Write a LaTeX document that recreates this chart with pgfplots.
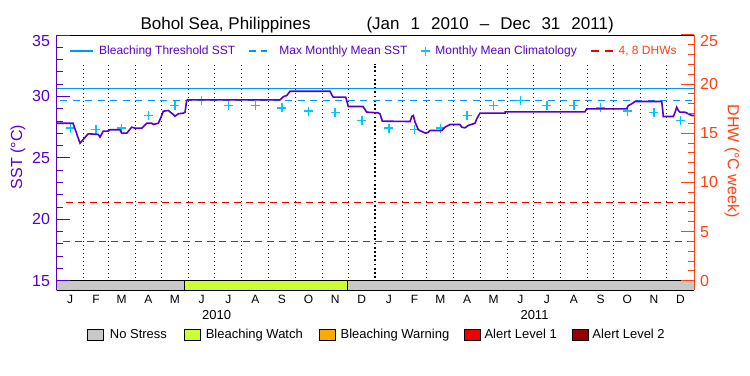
\documentclass[border=0pt]{standalone}
\usepackage{fontspec}
\setmainfont{Liberation Sans}
\usepackage{pgfplots}
\pgfplotsset{compat=1.18}
\definecolor{ppl}{RGB}{88,0,200}
\definecolor{orng}{RGB}{255,64,16}
\definecolor{thr}{RGB}{0,150,255}
\definecolor{cyn}{RGB}{0,200,255}
\definecolor{dhw}{RGB}{240,0,0}
\definecolor{nost}{RGB}{200,200,200}
\definecolor{watch}{RGB}{204,255,51}
\definecolor{warn}{RGB}{255,170,0}
\definecolor{alone}{RGB}{240,0,0}
\definecolor{altwo}{RGB}{150,0,0}
\newcommand{\fs}[1]{\fontsize{#1}{#1}\selectfont}

\pgfplotstableread{
d sst
0 27.82
18.7 27.82
26.7 26.20
34.4 26.83
36.2 26.96
47.7 26.91
49.6 26.69
53.4 27.18
58.8 27.18
61.1 27.29
72.5 27.29
74.5 27.01
80.2 27.01
85.9 27.50
89.7 27.42
97.4 27.42
103.1 27.82
108.8 27.82
110.7 27.72
116.4 27.82
119.5 28.31
122.1 28.80
127.8 28.86
133.6 28.53
135.5 28.39
139.3 28.59
145.0 28.64
147.0 28.72
148.9 29.67
150.0 29.72
255.8 29.72
259.6 29.99
263.5 30.07
267.2 30.42
313.1 30.42
315.0 30.15
316.8 29.94
331.0 29.94
332.2 29.67
334.0 29.18
350.9 29.18
355.1 28.72
368.0 28.67
370.3 28.59
373.0 27.99
404.8 27.96
406.7 28.37
408.5 28.45
410.5 27.91
414.2 27.29
418.1 27.15
422.7 27.01
425.7 27.09
427.6 27.23
441.0 27.23
444.8 27.50
450.5 27.72
462.0 27.72
463.9 27.50
467.7 27.45
471.5 27.64
479.2 27.82
481.1 28.18
484.9 28.64
513.5 28.64
513.6 28.75
605.1 28.75
607.0 28.99
652.9 28.99
654.7 29.26
658.6 29.40
662.4 29.59
693.0 29.59
694.2 28.86
694.8 28.37
706.3 28.37
708.3 28.72
710.2 29.12
712.0 28.86
714.0 28.72
719.7 28.72
723.5 28.59
727.4 28.45
730 28.45
}\sstdata

\pgfplotstableread{
d clim
15.5 27.42
45 27.29
74.5 27.42
105 28.45
135.5 29.26
166 29.67
196.5 29.26
227.5 29.26
258 29.07
288.5 28.80
319 28.67
349.5 28.04
380.5 27.42
410 27.29
439.5 27.42
470 28.45
500.5 29.26
531 29.67
561.5 29.26
592.5 29.26
623 29.07
653.5 28.80
684 28.67
714.5 28.04
}\climdata

\begin{document}
\begin{tikzpicture}
\begin{axis}[
  name=main,
  scale only axis,
  width=637.3pt, height=255pt,
  xmin=0, xmax=730, ymin=14.25, ymax=35,
  clip mode=individual,
  axis on top,
  axis x line*=box, axis y line*=left,
  x axis line style={black, line width=1pt, -},
  y axis line style={ppl, line width=1pt, -},
  tick align=inside,
  major tick length=13pt, minor tick length=6.5pt,
  ytick={15,20,25,30}, extra y ticks={35},
  minor ytick={16,17,18,19,21,22,23,24,26,27,28,29,31,32,33,34},
  ytick style={ppl, line width=1pt},
  extra y tick style={yticklabel style={yshift=-6pt}},
  yticklabel style={text=ppl, font=\fs{16}, inner sep=0pt, xshift=-6.5pt},
  /pgf/number format/assume math mode=true,
  xtick={15.5,45,74.5,105,135.5,166,196.5,227.5,258,288.5,319,349.5,380.5,410,439.5,470,500.5,531,561.5,592.5,623,653.5,684,714.5},
  xticklabels={J,F,M,A,M,J,J,A,S,O,N,D,J,F,M,A,M,J,J,A,S,O,N,D},
  xtick style={draw=none},
  xticklabel style={font=\fs{12}, inner sep=0pt, anchor=north, yshift=-5pt},
  legend columns=4,
  legend style={at={(0.0193,0.937)}, anchor=west, draw=none, fill=none,
    inner sep=0pt, outer sep=0pt, column sep=0pt, row sep=0pt,
    nodes={inner sep=0pt, text=ppl, font=\fs{12}}},
]
\addlegendimage{legend image code/.code={\draw[thr, line width=1.2pt] (0pt,0pt) -- (23pt,0pt);}}
\addlegendentry{\makebox[155pt][l]{\hspace{6pt}Bleaching Threshold SST}}
\addlegendimage{legend image code/.code={\draw[thr, line width=1.2pt, dash pattern=on 7pt off 5pt] (0pt,0pt) -- (18pt,0pt);}}
\addlegendentry{\makebox[152pt][l]{\hspace{12pt}Max Monthly Mean SST}}
\addlegendimage{legend image code/.code={\path[draw=none, fill=none] (0pt,-4.5pt) rectangle (12pt,4.5pt); \draw[cyn, line width=1.4pt] (1.5pt,0pt) -- (10.5pt,0pt) (6pt,-4.5pt) -- (6pt,4.5pt);}}
\addlegendentry{\makebox[159pt][l]{\hspace{4pt}Monthly Mean Climatology}}
\addlegendimage{legend image code/.code={\draw[dhw, line width=1.2pt, dash pattern=on 8pt off 6pt] (0pt,0pt) -- (24pt,0pt);}}
\addlegendentry{\makebox[72pt][l]{\hspace{3pt}\textcolor{orng}{4, 8 DHWs}}}

% stress bar
\addplot[fill=nost, draw=black, line width=0.9pt, forget plot] coordinates {(0,14.25) (0,15) (146,15) (146,14.25)} -- cycle;
\addplot[fill=watch, draw=black, line width=0.9pt, forget plot] coordinates {(146,14.25) (146,15) (333,15) (333,14.25)} -- cycle;
\addplot[fill=nost, draw=black, line width=0.9pt, forget plot] coordinates {(333,14.25) (333,15) (730,15) (730,14.25)} -- cycle;

% month boundaries
\addplot[black, line width=1pt, dash pattern=on 1pt off 3pt, unbounded coords=jump, forget plot] coordinates {
(31,15.23) (31,32.67) (31,nan)
(59,15.23) (59,32.67) (59,nan)
(90,15.23) (90,32.67) (90,nan)
(120,15.23) (120,32.67) (120,nan)
(151,15.23) (151,32.67) (151,nan)
(181,15.23) (181,32.67) (181,nan)
(212,15.23) (212,32.67) (212,nan)
(243,15.23) (243,32.67) (243,nan)
(273,15.23) (273,32.67) (273,nan)
(304,15.23) (304,32.67) (304,nan)
(334,15.23) (334,32.67) (334,nan)
(396,15.23) (396,32.67) (396,nan)
(424,15.23) (424,32.67) (424,nan)
(455,15.23) (455,32.67) (455,nan)
(485,15.23) (485,32.67) (485,nan)
(516,15.23) (516,32.67) (516,nan)
(546,15.23) (546,32.67) (546,nan)
(577,15.23) (577,32.67) (577,nan)
(608,15.23) (608,32.67) (608,nan)
(638,15.23) (638,32.67) (638,nan)
(669,15.23) (669,32.67) (669,nan)
(699,15.23) (699,32.67)
};
\addplot[black, line width=1.8pt, dash pattern=on 1.8pt off 2.4pt, forget plot] coordinates {(365,15.23) (365,32.67)};

% DHW 4 and 8
\addplot[dhw, line width=1pt, dash pattern=on 7pt off 5pt, forget plot] coordinates {(7,18.2) (725,18.2)};
\addplot[dhw, line width=1pt, dash pattern=on 7pt off 5pt, forget plot] coordinates {(11,21.4) (725,21.4)};
% threshold and MMM
\addplot[thr, line width=1.2pt, forget plot] coordinates {(0,30.65) (730,30.65)};
\addplot[thr, line width=1.2pt, dash pattern=on 7pt off 5.5pt, forget plot] coordinates {(4,29.65) (730,29.65)};
% climatology
\addplot[only marks, mark=+, mark size=4.5pt, mark options={cyn, line width=1.4pt}, forget plot] table[x=d, y=clim] {\climdata};
% SST
\addplot[ppl, line width=1.6pt, forget plot] table[x=d, y=sst] {\sstdata};

% texts and frame reference points
\node[anchor=base west, font=\fs{17}] at (rel axis cs:0.12600,1.02353) {Bohol Sea, Philippines};
\node[anchor=base west, font=\fs{17}] at (rel axis cs:0.48062,1.02353) {\spaceskip=11pt\relax (Jan 1 2010 – Dec 31 2011)};
\node[rotate=90, text=ppl, font=\fs{16}] at (rel axis cs:-0.06072,0.52157) {SST (°C)};
\node[rotate=-90, text=orng, font=\fs{16}] at (rel axis cs:1.05963,0.50588) {DHW (°C week)};
\node[font=\fs{13}] at (rel axis cs:0.25106,-0.09804) {2010};
\node[font=\fs{13}] at (rel axis cs:0.74973,-0.09804) {2011};
\coordinate (bbsw) at (rel axis cs:-0.08897,-0.33333);
\coordinate (bbne) at (rel axis cs:1.08787,1.13725);
\coordinate (axsw) at (rel axis cs:0,0);
\end{axis}

\begin{axis}[
  at={(axsw)}, anchor=south west, scale only axis,
  width=637.3pt, height=255pt,
  xmin=0, xmax=730, ymin=-0.9375, ymax=25,
  axis x line=none, axis y line*=right,
  y axis line style={orng, line width=1pt, -},
  xtick=\empty,
  tick align=inside,
  major tick length=13pt, minor tick length=6.5pt,
  ytick={0,5,10,15,20}, extra y ticks={25},
  minor ytick={1,2,3,4,6,7,8,9,11,12,13,14,16,17,18,19,21,22,23,24},
  ytick style={orng, line width=1pt},
  extra y tick style={yticklabel style={yshift=-6pt}},
  yticklabel style={text=orng, font=\fs{16}, inner sep=0pt, xshift=6pt},
  /pgf/number format/assume math mode=true,
  legend columns=5,
  legend style={at={(0.0475,-0.176)}, anchor=west, draw=none, fill=none,
    inner sep=0pt, outer sep=0pt, column sep=0pt, row sep=0pt,
    nodes={inner sep=0pt, text=black, font=\fs{13}}},
]
\addlegendimage{legend image code/.code={\draw[fill=nost, draw=black, line width=0.9pt] (0pt,-5.5pt) rectangle (16pt,5.5pt);}}
\addlegendentry{\makebox[80pt][l]{\hspace{6pt}No Stress}}
\addlegendimage{legend image code/.code={\draw[fill=watch, draw=black, line width=0.9pt] (0pt,-5.5pt) rectangle (16pt,5.5pt);}}
\addlegendentry{\makebox[118pt][l]{\hspace{5pt}Bleaching Watch}}
\addlegendimage{legend image code/.code={\draw[fill=warn, draw=black, line width=0.9pt] (0pt,-5.5pt) rectangle (16pt,5.5pt);}}
\addlegendentry{\makebox[128pt][l]{\hspace{5pt}Bleaching Warning}}
\addlegendimage{legend image code/.code={\draw[fill=alone, draw=black, line width=0.9pt] (0pt,-5.5pt) rectangle (16pt,5.5pt);}}
\addlegendentry{\makebox[91pt][l]{\hspace{4pt}Alert Level 1}}
\addlegendimage{legend image code/.code={\draw[fill=altwo, draw=black, line width=0.9pt] (0pt,-5.5pt) rectangle (16pt,5.5pt);}}
\addlegendentry{\makebox[84pt][l]{\hspace{4pt}Alert Level 2}}
\end{axis}
\pgfresetboundingbox
\useasboundingbox (bbsw) rectangle (bbne);
\end{tikzpicture}
\end{document}
